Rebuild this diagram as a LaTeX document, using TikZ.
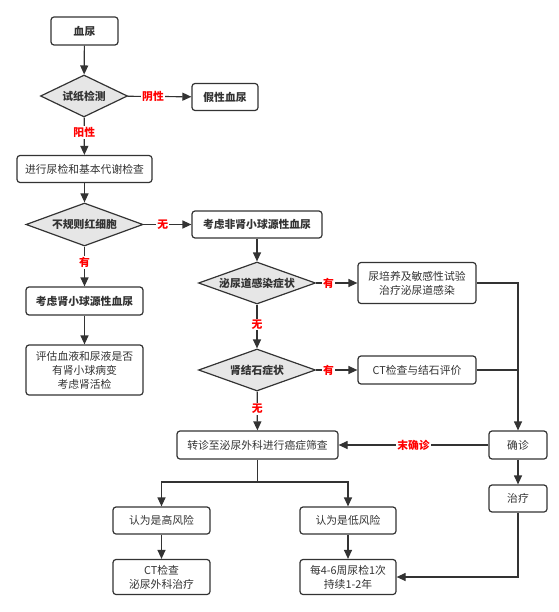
\documentclass[tikz,border=0pt]{standalone}
\usepackage{fontspec}
\setmainfont{Noto Sans CJK SC}
\usetikzlibrary{shapes.geometric,arrows.meta}
\definecolor{ink}{HTML}{333333}
\definecolor{shade}{HTML}{E6E6E6}
\begin{document}
\begin{tikzpicture}[x=1pt,y=-1pt,
  font=\fontsize{10.8}{14}\selectfont, text=ink,
  box/.style={draw=ink, line width=1.2pt, rounded corners=3pt, align=center, inner sep=0pt},
  test/.style={draw=ink, line width=1.2pt, diamond, fill=shade, inner sep=0pt, aspect=2.5, font=\fontsize{10.8}{14}\selectfont\bfseries},
  lab/.style={fill=white, inner sep=1pt, text=red, font=\fontsize{10.8}{14}\selectfont\bfseries},
  link/.style={draw=ink, line width=1.2pt, -{Triangle[length=9pt,width=8pt]}},
  wire/.style={draw=ink, line width=1.2pt}]
\useasboundingbox (0,0) rectangle (558,612);
% left column
\node[box, minimum width=67, minimum height=28, font=\fontsize{10.8}{14}\selectfont\bfseries] (blood) at (84.5,31) {血尿};
\node[test, minimum width=87, minimum height=42] (strip) at (84,96) {试纸检测};
\node[box, minimum width=66, minimum height=27, font=\fontsize{10.8}{14}\selectfont\bfseries] (fake) at (225,97) {假性血尿};
\node[box, minimum width=135, minimum height=27] (urine) at (84.5,169) {进行尿检和基本代谢检查};
\node[test, minimum width=117, minimum height=43] (rbc) at (84.5,224.5) {不规则红细胞};
\node[box, minimum width=117, minimum height=28, font=\fontsize{10.8}{14}\selectfont\bfseries] (glom) at (84.5,301) {考虑肾小球源性血尿};
\node[box, minimum width=117, minimum height=50] (eval) at (84.5,370) {评估血液和尿液是否\\有肾小球病变\\考虑肾活检};
% middle column
\node[box, minimum width=130, minimum height=27, font=\fontsize{10.8}{14}\selectfont\bfseries] (nonglom) at (257,224.5) {考虑非肾小球源性血尿};
\node[test, minimum width=117, minimum height=42] (uti) at (257,283) {泌尿道感染症状};
\node[test, minimum width=117, minimum height=42] (stone) at (257,370) {肾结石症状};
\node[box, minimum width=161, minimum height=28] (refer) at (257.5,445) {转诊至泌尿外科进行癌症筛查};
\node[box, minimum width=97, minimum height=27] (high) at (161.5,520.5) {认为是高风险};
\node[box, minimum width=97, minimum height=35] (surg) at (161.5,577) {CT检查\\泌尿外科治疗};
\node[box, minimum width=96, minimum height=27] (low) at (348,520.5) {认为是低风险};
\node[box, minimum width=96, minimum height=35] (follow) at (348,577) {每4-6周尿检1次\\持续1-2年};
% right column
\node[box, minimum width=118, minimum height=41] (culture) at (417,283) {尿培养及敏感性试验\\治疗泌尿道感染};
\node[box, minimum width=118, minimum height=28] (ct) at (417,370) {CT检查与结石评价};
\node[box, minimum width=58, minimum height=28] (dx) at (518,445) {确诊};
\node[box, minimum width=58, minimum height=27] (treat) at (518,498.5) {治疗};
\coordinate (fork) at (257.5,482);
% connectors
\path[link] (blood) -- (strip);
\path[link] (strip) -- node[lab, pos=0.4] {阴性} (fake);
\path[link] (strip) -- node[lab, pos=0.4] {阳性} (urine);
\path[link] (urine) -- (rbc);
\path[link] (rbc) -- node[lab, pos=0.4] {无} (nonglom);
\path[link] (rbc) -- node[lab, pos=0.4] {有} (glom);
\path[link] (glom) -- (eval);
\path[link] (nonglom) -- (uti);
\path[link] (uti) -- node[lab, pos=0.3] {有} (culture);
\path[link] (uti) -- node[lab, pos=0.45] {无} (stone);
\path[link] (stone) -- node[lab, pos=0.3] {有} (ct);
\path[link] (stone) -- node[lab, pos=0.45] {无} (refer);
\path[link] (culture.east) -| (dx.north);
\path[wire] (ct.east) -- (ct.east -| dx.north);
\path[link] (dx) -- node[lab, pos=0.5] {末确诊} (refer);
\path[link] (dx) -- (treat);
\path[wire] (refer) -- (fork);
\path[link] (fork) -| (high);
\path[link] (fork) -| (low);
\path[link] (high) -- (surg);
\path[link] (low) -- (follow);
\path[link] (treat) |- (follow);
\end{tikzpicture}
\end{document}
